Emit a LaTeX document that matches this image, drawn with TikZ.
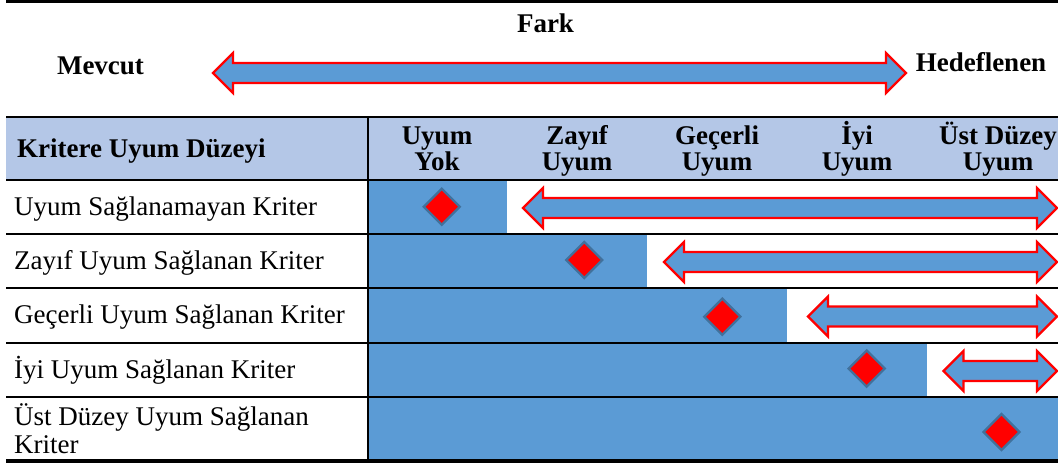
\documentclass[tikz,border=0pt]{standalone}
\usepackage{fontspec}
\setmainfont{Liberation Serif}
\usetikzlibrary{shapes.geometric}
\definecolor{cellblue}{HTML}{5B9BD5}
\definecolor{headblue}{HTML}{B4C7E7}
\definecolor{rimblue}{HTML}{41719C}

% two-headed block arrow: left tip x, right tip x, centre y
\newcommand\gaparrow[3]{%
  \draw[gapstyle] (#1,#3) -- (#1+20,#3-20) -- (#1+20,#3-10) -- (#2-20,#3-10)
    -- (#2-20,#3-20) -- (#2,#3) -- (#2-20,#3+20) -- (#2-20,#3+10)
    -- (#1+20,#3+10) -- (#1+20,#3+20) -- cycle;}

\tikzset{
  gapstyle/.style={fill=cellblue, draw=red, line width=2.2pt, line join=miter},
  rule/.style={draw=black, line width=2pt},
  txt/.style={inner sep=0pt, font=\fontsize{27}{27}\selectfont},
  btxt/.style={inner sep=0pt, font=\fontsize{27}{26}\selectfont\bfseries},
  gem/.style={diamond, aspect=1, draw=rimblue, fill=red, line width=2.3pt,
              minimum width=37pt, minimum height=37pt, inner sep=0pt},
}

\begin{document}
\begin{tikzpicture}[x=1pt, y=-1pt]
\clip (0,0) rectangle (1058,466);
\fill[white] (0,0) rectangle (1058,466);

% top rule
\draw[line width=3pt] (6,1.5) -- (1058,1.5);

% gap arrow between current and target state
\node[btxt, anchor=base] (fark) at (545.5,32) {Fark};
\node[btxt, anchor=base] (mevcut) at (100.5,74) {Mevcut};
\node[btxt, anchor=base] (hedef) at (981,71) {Hedeflenen};
\gaparrow{213}{906}{73}

% header row background
\fill[headblue] (6,117) rectangle (1070,180);

% reached level per criterion row
\fill[cellblue] (368,180) rectangle (507,234);
\fill[cellblue] (368,234) rectangle (647,288);
\fill[cellblue] (368,288) rectangle (787,343);
\fill[cellblue] (368,343) rectangle (927,397);
\fill[cellblue] (368,397) rectangle (1070,461);

% table rules
\draw[rule] (6,117) -- (1070,117);
\draw[rule] (6,180) -- (1070,180);
\draw[rule] (6,234) -- (1070,234);
\draw[rule] (6,288) -- (1070,288);
\draw[rule] (6,343) -- (1070,343);
\draw[rule] (6,397) -- (1070,397);
\draw[line width=4pt] (6,461) -- (1070,461);
\draw[rule] (368,116) -- (368,463);

% header texts
\node[btxt, anchor=base west] (hk) at (17,157) {Kritere Uyum Düzeyi};
\node[btxt, anchor=base] (h1) at (437,144) {\begin{tabular}[t]{@{}c@{}}Uyum\\Yok\end{tabular}};
\node[btxt, anchor=base] (h2) at (577,144) {\begin{tabular}[t]{@{}c@{}}Zayıf\\Uyum\end{tabular}};
\node[btxt, anchor=base] (h3) at (717,144) {\begin{tabular}[t]{@{}c@{}}Geçerli\\Uyum\end{tabular}};
\node[btxt, anchor=base] (h4) at (857,144) {\begin{tabular}[t]{@{}c@{}}İyi\\Uyum\end{tabular}};
\node[btxt, anchor=base] (h5) at (998,144) {\begin{tabular}[t]{@{}c@{}}Üst Düzey\\Uyum\end{tabular}};

% row labels
\node[txt, anchor=base west] (r1) at (14,215) {Uyum Sağlanamayan Kriter};
\node[txt, anchor=base west] (r2) at (14,269) {Zayıf Uyum Sağlanan Kriter};
\node[txt, anchor=base west] (r3) at (14,323) {Geçerli Uyum Sağlanan Kriter};
\node[txt, anchor=base west] (r4) at (14,378) {İyi Uyum Sağlanan Kriter};
\node[txt, anchor=base west, font=\fontsize{27}{28.5}\selectfont] (r5) at (14,425)
  {\begin{tabular}[t]{@{}l@{}}Üst Düzey Uyum Sağlanan\\Kriter\end{tabular}};

% remaining gap to the top level
\gaparrow{523}{1057}{208}
\gaparrow{664}{1057}{262}
\gaparrow{808}{1057}{316.5}
\gaparrow{943.5}{1057}{371}

% current level markers
\node[gem] (d1) at (441.7,206.7) {};
\node[gem] (d2) at (584.3,260) {};
\node[gem] (d3) at (722.3,316.7) {};
\node[gem] (d4) at (866.7,368.6) {};
\node[gem] (d5) at (1001.4,432) {};
\end{tikzpicture}
\end{document}
